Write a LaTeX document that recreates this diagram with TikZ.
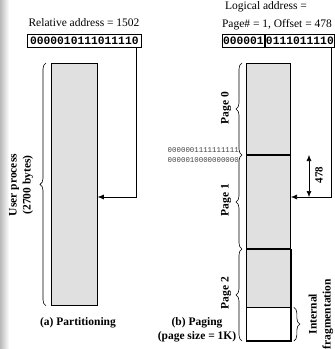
\documentclass[tikz,border=0pt]{standalone}
\usepackage{fontspec}
\setmainfont{Liberation Serif}
\setmonofont{Liberation Mono}
\usetikzlibrary{decorations.pathreplacing,arrows.meta,calc}
\definecolor{memgray}{HTML}{E0E0E0}
\definecolor{bitgray}{HTML}{444444}
\begin{document}
\begin{tikzpicture}[x=1pt,y=-1pt,
  lbl/.style={font=\fontsize{11.5}{13}\selectfont, inner sep=0pt},
  caption/.style={font=\fontsize{11.5}{14.5}\selectfont\bfseries, inner sep=0pt, align=center},
  bits/.style={draw, line width=0.8pt, font=\fontsize{11.3}{12}\selectfont\ttfamily\bfseries,
    inner xsep=2.7pt, inner ysep=0pt, minimum height=13pt},
  mem/.style={draw, line width=1pt, fill=memgray, inner sep=0pt, minimum width=44pt},
  brc/.style={decorate, decoration={brace, amplitude=6pt}, line width=0.6pt},
  arr/.style={-{Latex[length=6pt,width=5pt]}, line width=0.6pt},
  rot/.style={rotate=90, font=\fontsize{11.5}{14}\selectfont\bfseries, align=center, inner sep=0pt}
]
\useasboundingbox (0,0) rectangle (335,349);
% scanned paper edge on the left
\shade[left color=gray!55, right color=white] (0,0) rectangle (9,349);

% ---------- (a) partitioning ----------
\node[lbl] (rel) at (84,23) {Relative address = 1502};
\node[bits, anchor=west] (relbits) at (27,41) {0000010111011110};

\node[mem, minimum width=46pt, minimum height=242pt, line width=0.8pt, anchor=north west] (part) at (51,63) {};
\draw[brc] ($(part.south west)+(-5,0)$) -- ($(part.north west)+(-5,0)$);
\node[rot] (user) at (21,185) {User process\\(2700 bytes)};

\coordinate (rtop) at (136,48);
\coordinate (hit) at (0,197);
\draw[arr] (rtop) |- (part.east |- hit);

\node[caption] (capa) at (78,323) {(a) Partitioning};

% ---------- (b) paging ----------
\node[lbl] (log1) at (266,7) {Logical address =};
\node[lbl] (log2) at (277,25) {Page\# = 1, Offset = 478};
\node[bits, inner xsep=0.7pt, anchor=west] (pgno) at (222,41) {000001};
\node[bits, inner xsep=0.7pt, anchor=west] (offs) at (pgno.east) {0111011110};

\node[mem, minimum height=91pt, anchor=north west] (p0) at (246,63) {};
\node[mem, minimum height=93pt, anchor=north] (p1) at (p0.south) {};
\node[mem, minimum height=91pt, anchor=north] (p2) at (p1.south) {};
\node[draw, fill=white, line width=0.7pt, inner sep=0pt, minimum width=44pt,
      minimum height=33pt, anchor=south] (frag) at (p2.south) {};
\draw[line width=1pt] (p2.south west) rectangle (p2.north east);

\draw[brc] ($(p0.south west)+(-4,0)$) -- ($(p0.north west)+(-4,0)$);
\draw[brc] ($(p1.south west)+(-4,0)$) -- ($(p1.north west)+(-4,0)$);
\draw[brc] ($(p2.south west)+(-4,0)$) -- ($(p2.north west)+(-4,0)$);
\node[rot] (l0) at (226,108) {Page 0};
\node[rot] (l1) at (226,200) {Page 1};
\node[rot] (l2) at (226,293) {Page 2};

\draw[brc] ($(frag.north east)+(3,0)$) -- ($(frag.south east)+(3,0)$);
\node[rot] (fraglbl) at (321,314) {Internal\\fragmentation};

\node[anchor=east, font=\fontsize{7.4}{10}\selectfont\ttfamily, text=bitgray, align=right, inner sep=0pt]
  (bounds) at (239,155) {0000001111111111\\0000010000000000};

\coordinate (ltop) at (331,48);
\draw[arr] (ltop) |- (p1.east |- hit);

\coordinate (dtop) at (309,155);
\coordinate (dbot) at (309,197);
\draw[{Latex[length=6pt,width=5pt]}-{Latex[length=6pt,width=5pt]}, line width=0.6pt] (dtop) -- (dbot);
\node[rot, font=\fontsize{11}{12}\selectfont\bfseries] (off) at (319,175) {478};

\node[caption] (capb) at (197,330) {(b) Paging\\(page size = 1K)};
\end{tikzpicture}
\end{document}
